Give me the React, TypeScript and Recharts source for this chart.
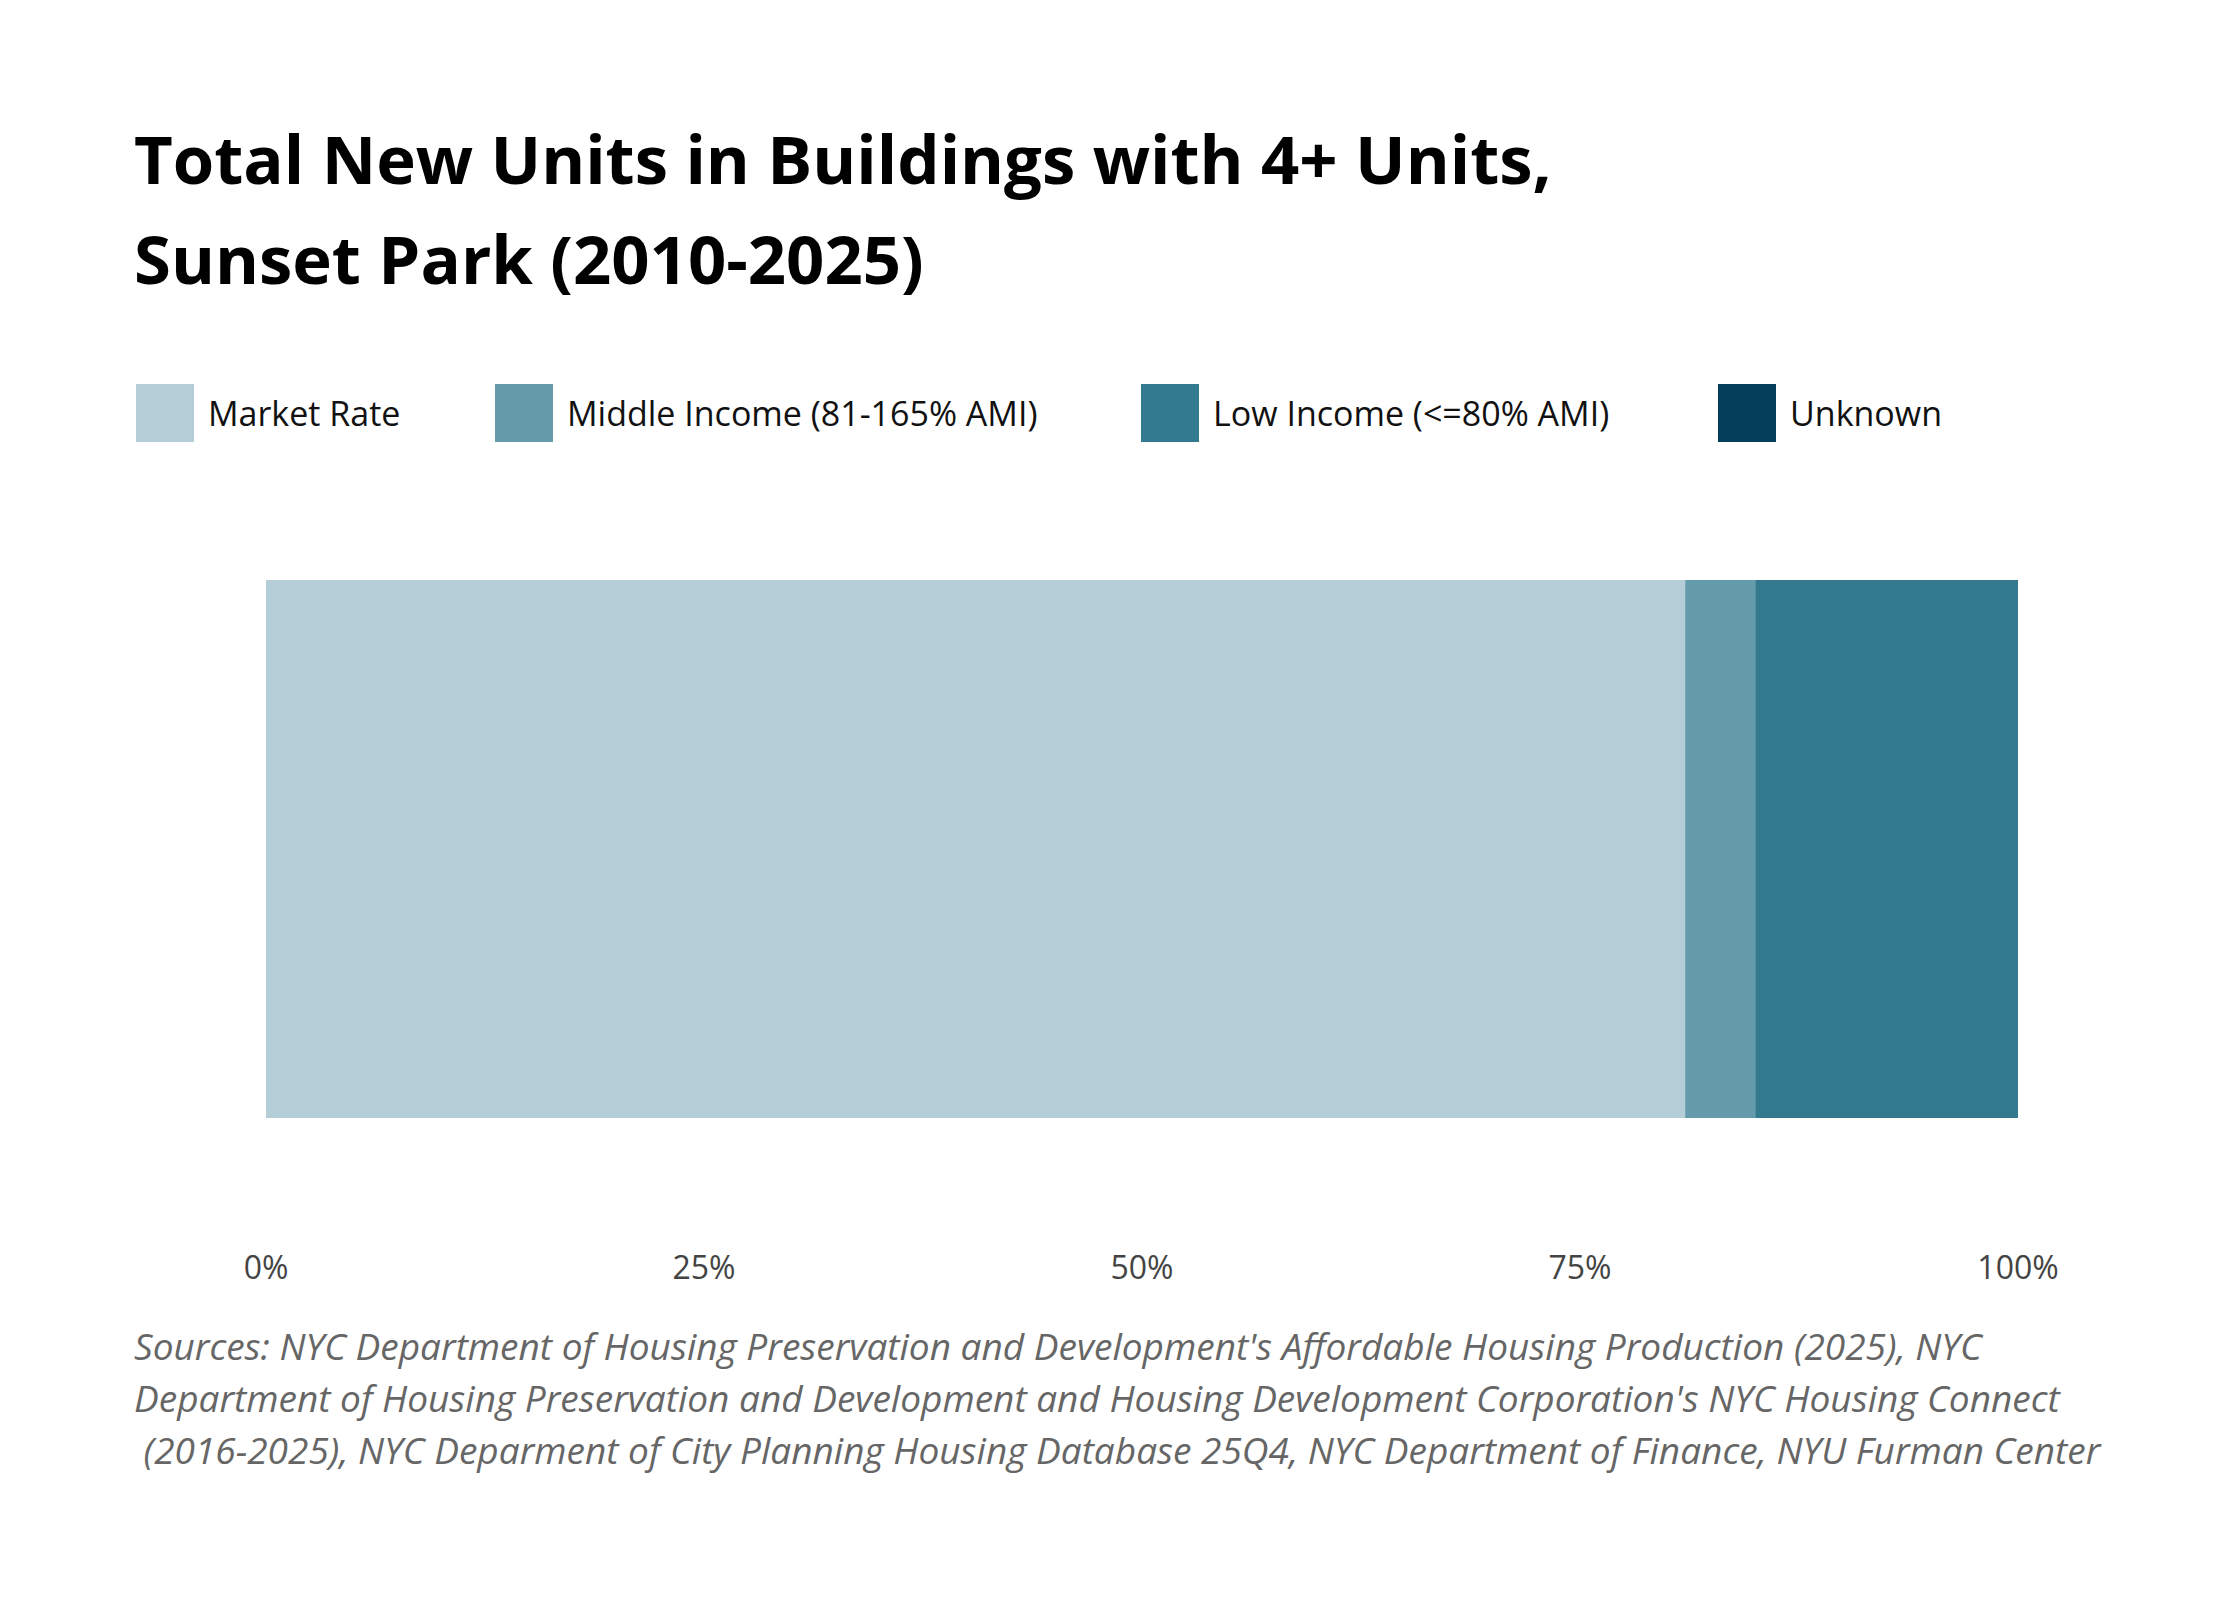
import { BarChart, Bar, XAxis, YAxis } from 'recharts'

const categories = ['Sunset Park']
const marketRate = [81.0]
const middleIncome = [4.0]
const lowIncome = [15.0]
const unknown = [0]
const xTicks = [0, 25, 50, 75, 100]

const series = [
  { key: 'market', label: 'Market Rate', color: '#b4cdd6', x: 136 },
  { key: 'middle', label: 'Middle Income (81-165% AMI)', color: '#659cac', x: 495 },
  { key: 'low', label: 'Low Income (<=80% AMI)', color: '#337a8f', x: 1141 },
  { key: 'unknown', label: 'Unknown', color: '#033f5b', x: 1718 },
]

const data = categories.map((name, i) => ({
  name,
  market: marketRate[i],
  middle: middleIncome[i],
  low: lowIncome[i],
  unknown: unknown[i],
}))

const font = '"Open Sans", Lato, sans-serif'

export default function App() {
  return (
    <div style={{ position: 'relative', width: 2240, height: 1600, margin: -8, background: '#fff', fontFamily: font }}>
      <div style={{ position: 'absolute', left: 134, top: 108, fontSize: 67, fontWeight: 700, lineHeight: '100px', color: '#000' }}>
        Total New Units in Buildings with 4+ Units,<br />Sunset Park (2010-2025)
      </div>
      {series.map((s) => (
        <div key={s.key} style={{ position: 'absolute', left: s.x, top: 384, display: 'flex', alignItems: 'center' }}>
          <div style={{ width: 58, height: 58, background: s.color }} />
          <span style={{ marginLeft: 14, fontSize: 34, color: '#111' }}>{s.label}</span>
        </div>
      ))}
      <div style={{ position: 'absolute', top: 0, left: 0 }}>
        <BarChart
          width={2240}
          height={1318}
          data={data}
          layout="vertical"
          margin={{ top: 580, right: 222, bottom: 0, left: 266 }}
          barCategoryGap={0}
        >
          <XAxis
            type="number"
            domain={[0, 100]}
            ticks={xTicks}
            tickFormatter={(v) => `${v}%`}
            axisLine={false}
            tickLine={false}
            tickSize={0}
            tickMargin={138}
            height={200}
            tick={{ fontSize: 32, fill: '#444', fontFamily: font }}
          />
          <YAxis type="category" dataKey="name" hide />
          {series.map((s) => (
            <Bar key={s.key} dataKey={s.key} stackId="a" fill={s.color} isAnimationActive={false} />
          ))}
        </BarChart>
      </div>
      <div style={{ position: 'absolute', left: 134, top: 1320, fontSize: 37, fontStyle: 'italic', lineHeight: '52px', color: '#666', whiteSpace: 'nowrap' }}>
        Sources: NYC Department of Housing Preservation and Development's Affordable Housing Production (2025), NYC<br />
        Department of Housing Preservation and Development and Housing Development Corporation's NYC Housing Connect<br />
        &nbsp;(2016-2025), NYC Deparment of City Planning Housing Database 25Q4, NYC Department of Finance, NYU Furman Center
      </div>
    </div>
  )
}
